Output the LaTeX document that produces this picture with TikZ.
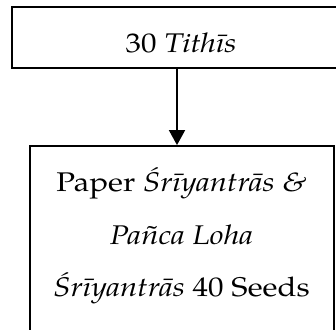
\documentclass[tikz,border=0pt]{standalone}
\usepackage{fontspec}
\setmainfont[FakeStretch=1.15]{TeX Gyre Pagella}
\usetikzlibrary{arrows.meta}
\begin{document}
\begin{tikzpicture}[x=1pt,y=-1pt,
  boxst/.style={draw=black, line width=1.8pt, rectangle, inner sep=0pt},
  txt/.style={font=\fontsize{27}{52.5}\selectfont, align=center, inner sep=0pt},
  arr/.style={line width=1.8pt, -{Triangle[width=16pt,length=15pt]}}]
\useasboundingbox (0,0) rectangle (336,329);
\clip (0,0) rectangle (336,329);
\node[boxst, txt, minimum width=338pt, minimum height=61pt, text height=30pt, text depth=0pt] (top) at (181,37.5) {30 \textit{Tithīs}};
\node[boxst, minimum width=304pt, minimum height=194pt] (bot) at (182,243) {};
\node[txt] (botlabel) at (181.5,236) {Paper \textit{Śrīyantrās \&}\\ \textit{Pañca Loha}\\ \textit{Śrīyantrās} 40 Seeds};
\coordinate (ax) at (177,0);
\draw[arr] (top.south -| ax) -- (bot.north -| ax);
\end{tikzpicture}
\end{document}
